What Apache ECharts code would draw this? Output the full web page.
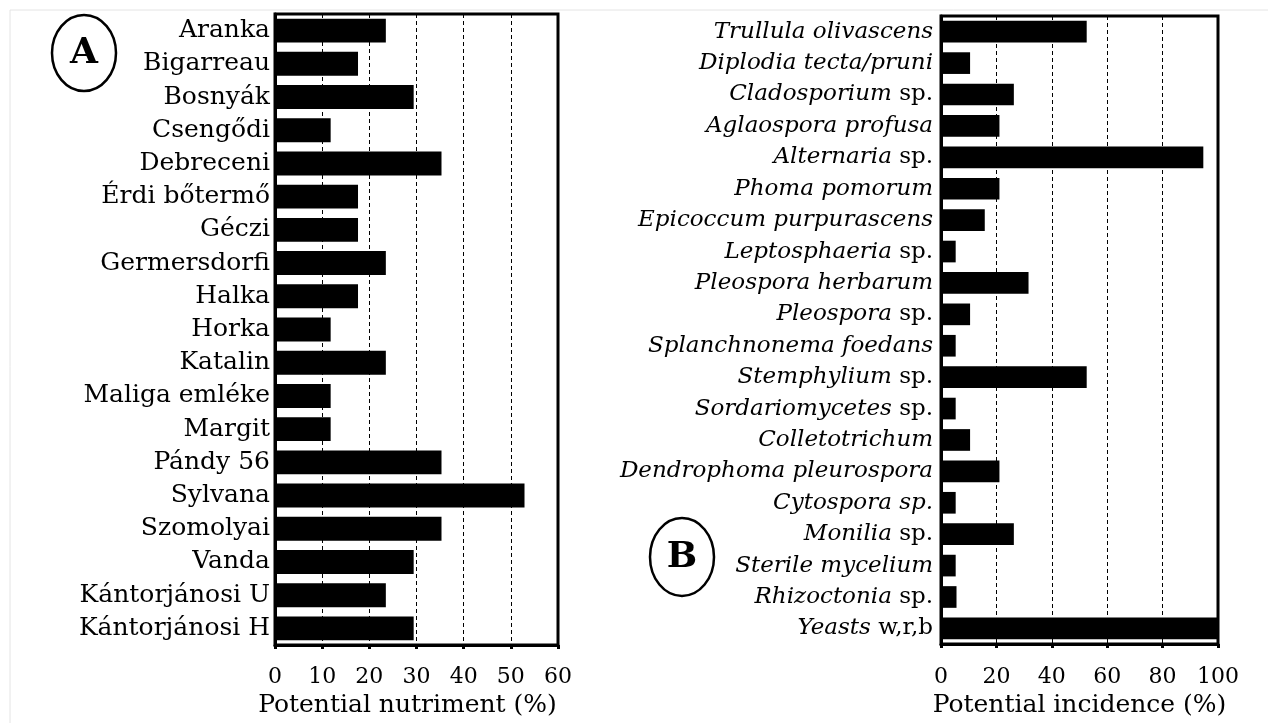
<!DOCTYPE html>
<html>
<head>
<meta charset="utf-8">
<script src="https://cdn.jsdelivr.net/npm/echarts@6/dist/echarts.min.js"></script>
<style>
  html, body { margin: 0; padding: 0; background: #fff; }
  #chart { width: 1268px; height: 723px; }
</style>
</head>
<body>
<div id="chart"></div>
<script>
// A: cherry cultivars
let cultivars = ['Aranka', 'Bigarreau', 'Bosnyák', 'Csengődi', 'Debreceni', 'Érdi bőtermő', 'Géczi',
  'Germersdorfi', 'Halka', 'Horka', 'Katalin', 'Maliga emléke', 'Margit', 'Pándy 56', 'Sylvana',
  'Szomolyai', 'Vanda', 'Kántorjánosi U', 'Kántorjánosi H']
let nutriment = [23.5, 17.6, 29.4, 11.8, 35.3, 17.6, 17.6, 23.5, 17.6, 11.8, 23.5, 11.8, 11.8, 35.3,
  52.9, 35.3, 29.4, 23.5, 29.4]
let nutrimentTicks = [0, 10, 20, 30, 40, 50, 60]

// B: fungi, italic name + roman tail
let fungi = ['Trullula olivascens', 'Diplodia tecta/pruni', 'Cladosporium sp.', 'Aglaospora profusa',
  'Alternaria sp.', 'Phoma pomorum', 'Epicoccum purpurascens', 'Leptosphaeria sp.', 'Pleospora herbarum',
  'Pleospora sp.', 'Splanchnonema foedans', 'Stemphylium sp.', 'Sordariomycetes sp.', 'Colletotrichum',
  'Dendrophoma pleurospora', 'Cytospora sp.', 'Monilia sp.', 'Sterile mycelium', 'Rhizoctonia sp.',
  'Yeasts w,r,b']
let romanTail = ['', '', 'sp.', '', 'sp.', '', '', 'sp.', '', 'sp.', '', 'sp.', 'sp.', '', '', '', 'sp.',
  '', 'sp.', 'w,r,b']
let incidence = [52.6, 10.5, 26.3, 21.1, 94.7, 21.1, 15.8, 5.3, 31.6, 10.5, 5.3, 52.6, 5.3, 10.5, 21.1,
  5.3, 26.3, 5.3, 5.6, 100]
let incidenceTicks = [0, 20, 40, 60, 80, 100]

let serif = 'DejaVu Serif'
let myChart = echarts.init(document.getElementById('chart'))

function fungusLabel(value, idx) {
  let tail = romanTail[idx]
  if (tail && value.endsWith(tail)) {
    return '{i|' + value.slice(0, value.length - tail.length) + '}{n|' + tail + '}'
  }
  return '{i|' + value + '}'
}

function xAxisCfg(gridIndex, ticks, name, margin, nameGap, namePad) {
  return {
    gridIndex: gridIndex,
    type: 'value',
    min: ticks[0],
    max: ticks[ticks.length - 1],
    interval: ticks[1] - ticks[0],
    name: name,
    nameLocation: 'middle',
    nameGap: nameGap,
    nameTextStyle: { fontFamily: serif, fontSize: 25, color: '#000', padding: namePad },
    axisLine: { show: true, lineStyle: { color: '#000', width: 3 } },
    axisTick: { show: true, length: 4, lineStyle: { color: '#000', width: 3 } },
    axisLabel: { margin: margin, fontFamily: serif, fontSize: 22, color: '#000' },
    splitLine: { show: true, lineStyle: { color: '#000', width: 1, type: [4, 3] } }
  }
}

let option = {
  animation: false,
  backgroundColor: '#fff',
  grid: [
    { left: 275, right: 710, top: 14, bottom: 78, show: true, borderColor: '#000', borderWidth: 3 },
    { left: 941, right: 50, top: 16, bottom: 70, show: true, borderColor: '#000', borderWidth: 3 }
  ],
  xAxis: [
    xAxisCfg(0, nutrimentTicks, 'Potential nutriment (%)', 21, 46, [0, 18, 0, 0]),
    xAxisCfg(1, incidenceTicks, 'Potential incidence (%)', 22, 46, 0)
  ],
  yAxis: [
    {
      gridIndex: 0,
      type: 'category',
      inverse: true,
      data: cultivars,
      axisLine: { lineStyle: { color: '#000', width: 3 } },
      axisTick: { length: 4, lineStyle: { color: '#000', width: 3 } },
      axisLabel: { margin: 5, fontFamily: serif, fontSize: 25, color: '#000', interval: 0 }
    },
    {
      gridIndex: 1,
      type: 'category',
      inverse: true,
      data: fungi,
      axisLine: { lineStyle: { color: '#000', width: 3 } },
      axisTick: { length: 4, lineStyle: { color: '#000', width: 3 } },
      axisLabel: {
        margin: 8,
        interval: 0,
        color: '#000',
        formatter: fungusLabel,
        rich: {
          i: { fontFamily: serif, fontStyle: 'italic', fontSize: 23, color: '#000' },
          n: { fontFamily: serif, fontSize: 23, color: '#000' }
        }
      }
    }
  ],
  series: [
    {
      type: 'bar',
      xAxisIndex: 0,
      yAxisIndex: 0,
      data: nutriment,
      barCategoryGap: '28%',
      itemStyle: { color: '#000' }
    },
    {
      type: 'bar',
      xAxisIndex: 1,
      yAxisIndex: 1,
      data: incidence,
      barCategoryGap: '31%',
      itemStyle: { color: '#000' }
    }
  ],
  graphic: [
    // faint page frame
    { type: 'line', shape: { x1: 10, y1: 10, x2: 1268, y2: 10 }, style: { stroke: '#e4e4e4', lineWidth: 1 } },
    { type: 'line', shape: { x1: 10, y1: 10, x2: 10, y2: 723 }, style: { stroke: '#e4e4e4', lineWidth: 1 } },
    // panel marks
    { type: 'ellipse', shape: { cx: 84, cy: 53, rx: 32, ry: 38 }, style: { fill: 'none', stroke: '#000', lineWidth: 2.5 } },
    { type: 'text', x: 84, y: 54, style: { text: 'A', fontFamily: serif, fontWeight: 'bold', fontSize: 36, fill: '#000', align: 'center', verticalAlign: 'middle' } },
    { type: 'ellipse', shape: { cx: 682, cy: 557, rx: 32, ry: 39 }, style: { fill: 'none', stroke: '#000', lineWidth: 2.5 } },
    { type: 'text', x: 682, y: 558, style: { text: 'B', fontFamily: serif, fontWeight: 'bold', fontSize: 36, fill: '#000', align: 'center', verticalAlign: 'middle' } }
  ]
}
myChart.setOption(option)
</script>
</body>
</html>
